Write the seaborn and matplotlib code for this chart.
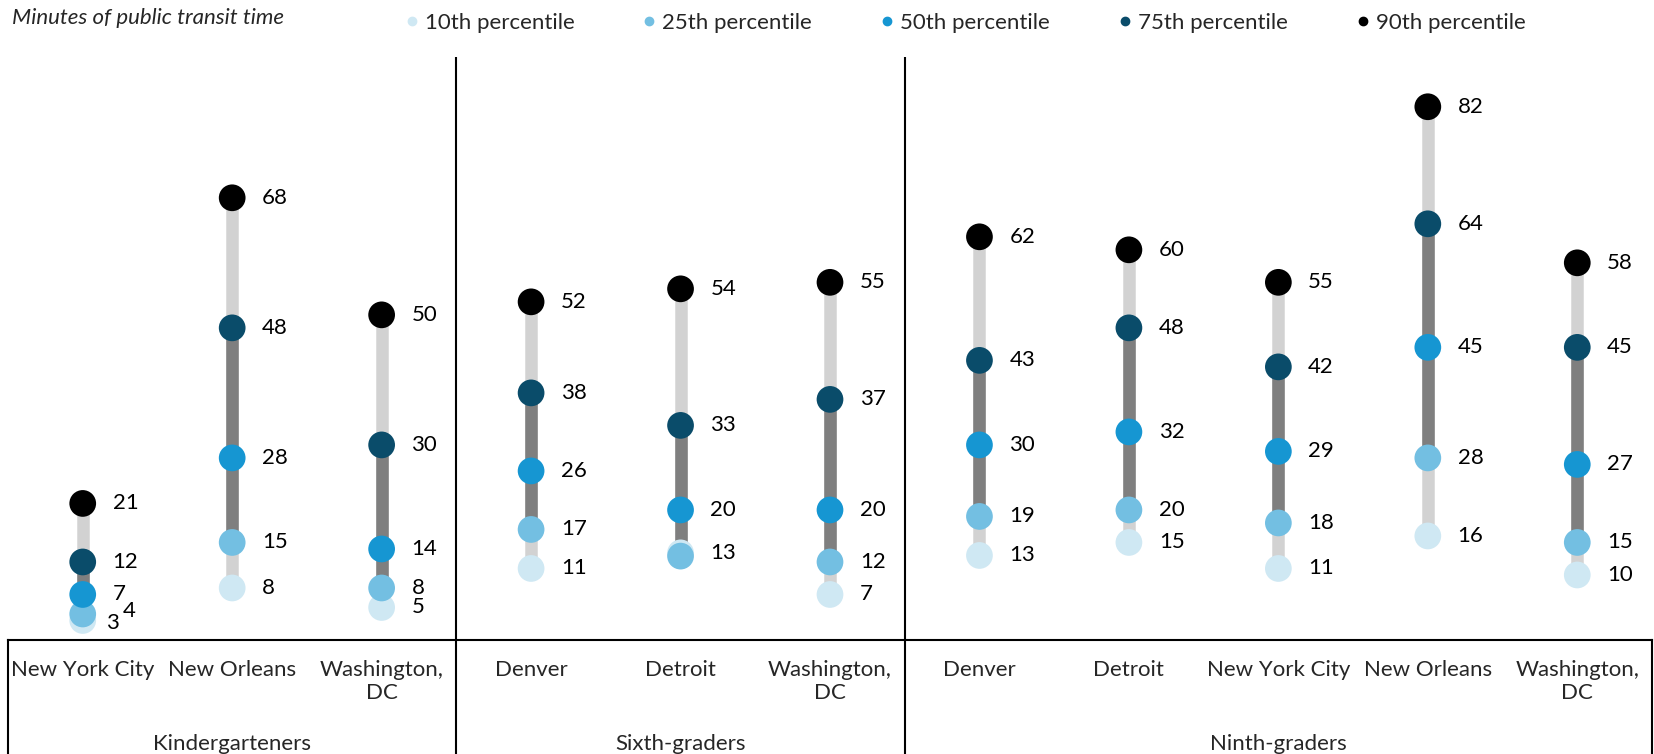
import numpy as np
import pandas as pd
import matplotlib
matplotlib.use("Agg")
import matplotlib.pyplot as plt
from matplotlib.lines import Line2D
import seaborn as sns

# Chart data (minutes of public transit time)
cities = ["New York City", "New Orleans", "Washington,\nDC",
          "Denver", "Detroit", "Washington,\nDC",
          "Denver", "Detroit", "New York City", "New Orleans", "Washington,\nDC"]
grades = ["Kindergarteners"] * 3 + ["Sixth-graders"] * 3 + ["Ninth-graders"] * 5
p10 = [3, 8, 5, 11, 13.4, 7, 13, 15, 11, 16, 10]
p25 = [4, 15, 8, 17, 12.9, 12, 19, 20, 18, 28, 15]
p50 = [7, 28, 14, 26, 20, 20, 30, 32, 29, 45, 27]
p75 = [12, 48, 30, 38, 33, 37, 43, 48, 42, 64, 45]
p90 = [21, 68, 50, 52, 54, 55, 62, 60, 55, 82, 58]
pct_labels = ["10th percentile", "25th percentile", "50th percentile",
              "75th percentile", "90th percentile"]
pct_colors = ["#cfe8f3", "#73bfe2", "#1696d2", "#0a4c6a", "#000000"]

sns.set_theme(style="white")
plt.rcParams["font.family"] = ["Lato", "DejaVu Sans"]

# long-form table, 10th first so higher percentiles sit on top
pos = np.arange(len(cities))
frames = []
for name, vals in zip(pct_labels, [p10, p25, p50, p75, p90]):
    frames.append(pd.DataFrame({"pos": pos, "value": vals, "pct": name}))
df = pd.concat(frames, ignore_index=True)

W, H = 1654, 754
fig = plt.figure(figsize=(W / 100, H / 100), dpi=100)
left, width = 8 / W, 1644 / W
base = 114 / H
ax = fig.add_axes([left, base, width, 583 / H])
ax2 = fig.add_axes([left, 0, width, base])

ax.vlines(pos, p10, p90, color="#d2d2d2", lw=9, zorder=1)
ax.vlines(pos, p25, p75, color="#7f7f7f", lw=9, zorder=2)
sns.scatterplot(data=df, x="pos", y="value", hue="pct", hue_order=pct_labels,
                palette=pct_colors, s=370, linewidth=0, legend=False,
                ax=ax, zorder=3)

# value labels, a couple nudged where points crowd together
nudge = {(0, "25th percentile"): (28.5, 2), (0, "10th percentile"): (16.5, -1.5)}
placed = set()
for _, r in df.iterrows():
    txt = f"{round(r['value'])}"
    key = (r["pos"], txt)
    if key in placed:
        continue
    placed.add(key)
    dx, dy = nudge.get((r["pos"], r["pct"]), (21.5, 0))
    ax.annotate(txt, (r["pos"], r["value"]), xytext=(dx, dy),
                textcoords="offset points", ha="left", va="center",
                fontsize=16, color="black", zorder=4)

ax.set_xlim(-0.5, len(cities) - 0.5)
ax.set_ylim(0, 89.65)
ax.set_axis_off()

# group dividers
bounds = [i + 0.5 for i in range(len(grades) - 1) if grades[i] != grades[i + 1]]
for b in bounds:
    ax.axvline(b, color="black", lw=1.5)
    ax2.axvline(b, color="black", lw=1.5)

# category / group label strip
ax2.set_xlim(ax.get_xlim())
ax2.set_ylim(0, 1)
ax2.set_xticks([])
ax2.set_yticks([])
for s in ["top", "left", "right"]:
    ax2.spines[s].set_visible(True)
    ax2.spines[s].set_color("black")
    ax2.spines[s].set_linewidth(1.5)
ax2.spines["bottom"].set_visible(False)
for i, c in enumerate(cities):
    ax2.text(i, 0.825, c, ha="center", va="top", fontsize=16)
for g in dict.fromkeys(grades):
    idx = [i for i, gg in enumerate(grades) if gg == g]
    ax2.text(np.mean(idx), 0.085, g, ha="center", va="center", fontsize=16)

fig.text(12 / W, 1 - 18 / H, "Minutes of public transit time", style="italic",
         fontsize=16, ha="left", va="center")

handles = [Line2D([], [], marker="o", ls="", color=c, markersize=6) for c in pct_colors]
fig.legend(handles, pct_labels, ncol=5, loc="center left",
           bbox_to_anchor=(405 / W, 1 - 23 / H), frameon=False,
           handlelength=0.6, handletextpad=0.28, columnspacing=3.08,
           borderpad=0, borderaxespad=0, fontsize=16)

fig.savefig("out.png", dpi=100)
